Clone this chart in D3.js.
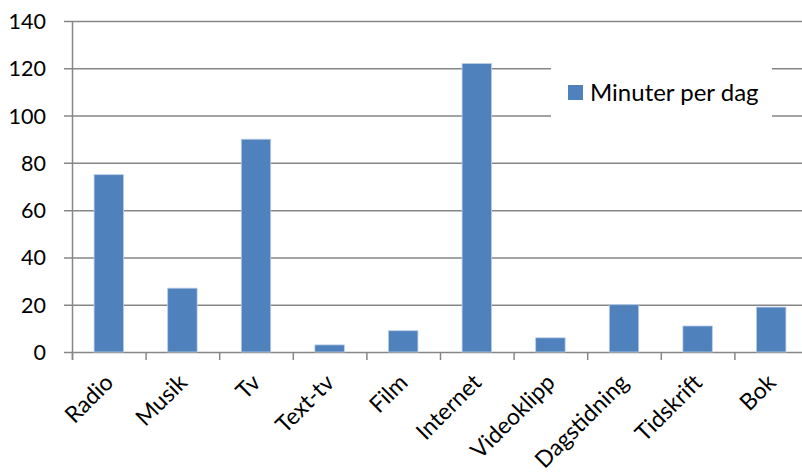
<!DOCTYPE html>
<html>
<head>
<meta charset="utf-8">
<script src="https://cdn.jsdelivr.net/npm/d3@7"></script>
<style>
  body { margin: 0; background: #fff; }
  text { font-family: Lato, "Open Sans", sans-serif; fill: #000; }
</style>
</head>
<body>
<div id="chart"></div>
<script>
// data
var categories = ["Radio", "Musik", "Tv", "Text-tv", "Film", "Internet", "Videoklipp", "Dagstidning", "Tidskrift", "Bok"];
var minutes = [75, 27, 90, 3, 9, 122, 6, 20, 11, 19];
var yTicks = [0, 20, 40, 60, 80, 100, 120, 140];
var seriesName = "Minuter per dag";

var W = 802, H = 476;
var plot = {left: 72, right: 808, top: 21, bottom: 352};
var barColor = "#4f81bd", gridColor = "#868686";

var svg = d3.select("#chart").append("svg")
  .attr("width", W).attr("height", H);

var x = d3.scaleBand()
  .domain(categories)
  .range([plot.left, plot.right])
  .paddingInner(0.6).paddingOuter(0.3);

var y = d3.scaleLinear().domain([0, 140]).range([plot.bottom, plot.top]);

// gridlines + y ticks
svg.append("g").selectAll("line").data(yTicks).enter().append("line")
  .attr("x1", plot.left - 8).attr("x2", W)
  .attr("y1", function(d) { return y(d) + 0.5; })
  .attr("y2", function(d) { return y(d) + 0.5; })
  .attr("stroke", gridColor).attr("stroke-width", 1.5);

svg.append("g").selectAll("text").data(yTicks).enter().append("text")
  .attr("x", 46).attr("y", function(d) { return y(d) + 8; })
  .attr("text-anchor", "end").attr("font-size", "21.5px")
  .text(function(d) { return d; });

// bars
svg.append("g").selectAll("rect").data(minutes).enter().append("rect")
  .attr("x", function(d, i) { return x(categories[i]); })
  .attr("width", x.bandwidth())
  .attr("y", function(d) { return y(d); })
  .attr("height", function(d) { return y(0) - y(d); })
  .attr("fill", barColor)
  .attr("stroke", "#b9cde5").attr("stroke-width", 0.8);

// y axis line
svg.append("line")
  .attr("x1", plot.left + 0.5).attr("x2", plot.left + 0.5)
  .attr("y1", plot.top).attr("y2", plot.bottom + 8)
  .attr("stroke", gridColor).attr("stroke-width", 1.5);

// x axis ticks (category boundaries)
var bounds = d3.range(categories.length + 1).map(function(i) { return plot.left + i * (plot.right - plot.left) / categories.length; });
svg.append("g").selectAll("line").data(bounds).enter().append("line")
  .attr("x1", function(d) { return d + 0.5; }).attr("x2", function(d) { return d + 0.5; })
  .attr("y1", plot.bottom).attr("y2", plot.bottom + 8)
  .attr("stroke", gridColor).attr("stroke-width", 1.5);

// x labels rotated
svg.append("g").selectAll("text").data(categories).enter().append("text")
  .attr("text-anchor", "end").attr("font-size", "23px")
  .attr("transform", function(d) {
    var cx = x(d) + x.bandwidth() / 2 + 6;
    return "translate(" + cx + "," + (plot.bottom + 32) + ") rotate(-45)";
  })
  .text(function(d) { return d; });

// legend
var lg = svg.append("g");
lg.append("rect").attr("x", 551).attr("y", 58).attr("width", 221).attr("height", 66).attr("fill", "#fff");
lg.append("rect").attr("x", 568).attr("y", 85).attr("width", 15).attr("height", 15).attr("fill", barColor);
lg.append("text").attr("x", 590).attr("y", 101).attr("font-size", "24px").text(seriesName);
</script>
</body>
</html>
